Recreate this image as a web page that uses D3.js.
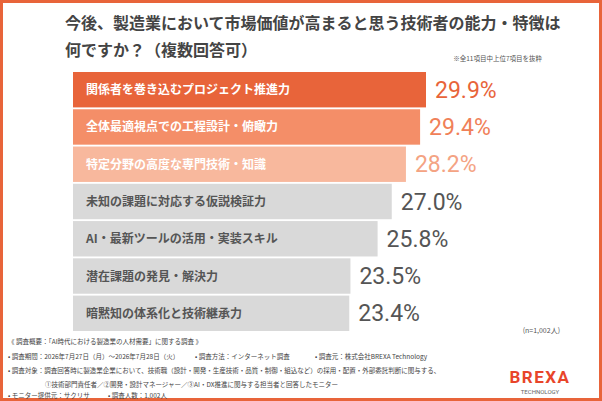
<!DOCTYPE html>
<html><head><meta charset="utf-8">
<script src="https://cdn.jsdelivr.net/npm/d3@7"></script>
<style>body{margin:0;background:#fff}svg{display:block;font-family:"Noto Sans CJK JP",sans-serif}</style>
</head><body><div id="chart"></div>
<script>
const categories = ["関係者を巻き込むプロジェクト推進力","全体最適視点での工程設計・俯瞰力","特定分野の高度な専門技術・知識","未知の課題に対応する仮説検証力","AI・最新ツールの活用・実装スキル","潜在課題の発見・解決力","暗黙知の体系化と技術継承力"];
const values = [29.9,29.4,28.2,27.0,25.8,23.5,23.4];
const barColors = ["#e8643a","#f48e68","#f8b89d","#d9d9d9","#d9d9d9","#d9d9d9","#d9d9d9"];
const valueColors = ["#e8643a","#f08058","#f4a383","#555","#555","#555","#555"];

const W = 602, H = 401;
const svg = d3.select("#chart").append("svg").attr("width", W).attr("height", H);
svg.append("rect").attr("x",1.5).attr("y",1.5).attr("width",W-3).attr("height",H-3)
  .attr("fill","none").attr("stroke","#e8643a").attr("stroke-width",3);

svg.append("text").attr("x",65).attr("y",29).attr("font-size",16).attr("font-weight",700).attr("fill","#444")
  .text("今後、製造業において市場価値が高まると思う技術者の能力・特徴は");
svg.append("text").attr("x",65).attr("y",56).attr("font-size",16).attr("font-weight",700).attr("fill","#444")
  .text("何ですか？（複数回答可）");
svg.append("text").attr("x",542).attr("y",61).attr("font-size",6.5).attr("text-anchor","end").attr("fill","#555")
  .text("※全11項目中上位7項目を抜粋");

const x = d3.scaleLinear().domain([0,29.9]).range([73,426]);
const y = d3.scaleBand().domain(categories).range([72,331]).paddingInner(0.05);

const g = svg.selectAll(".row").data(categories).enter().append("g");
g.append("rect").attr("x",x(0)).attr("y",d=>y(d)).attr("height",y.bandwidth())
  .attr("width",(d,i)=>x(values[i])-x(0)).attr("fill",(d,i)=>barColors[i]);
g.append("text").attr("x",86).attr("y",d=>y(d)+y.bandwidth()/2+4.5).attr("font-size",12).attr("font-weight",700)
  .attr("fill",(d,i)=>i<3?"#fff":"#555").text(d=>d);
g.append("text").attr("x",(d,i)=>x(values[i])+9).attr("y",d=>y(d)+y.bandwidth()/2+8)
  .attr("font-family","Roboto").attr("font-size",23).attr("font-weight",400)
  .attr("fill",(d,i)=>valueColors[i]).text((d,i)=>values[i].toFixed(1)+"%");

svg.append("text").attr("x",560).attr("y",333).attr("font-size",7).attr("text-anchor","end").attr("fill","#555").text("(n=1,002人)");

const notes = [
  [8,344,"《 調査概要：「AI時代における製造業の人材需要」に関する調査 》"],
  [8,359,"• 調査期間：2026年7月27日（月）〜2026年7月28日（火）"],
  [195,359,"• 調査方法：インターネット調査"],
  [315,359,"• 調査元：株式会社BREXA Technology"],
  [8,373,"• 調査対象：調査回答時に製造業企業において、技術職（設計・開発・生産技術・品質・制御・組込など）の採用・配置・外部委託判断に関与する、"],
  [45,387,"①技術部門責任者／②開発・設計マネージャー／③AI・DX推進に関与する担当者と回答したモニター"],
  [8,398,"• モニター提供元：サクリサ"],
  [108,398,"• 調査人数：1,002人"]
];
svg.selectAll(".note").data(notes).enter().append("text").attr("x",d=>d[0]).attr("y",d=>d[1])
  .attr("font-size",6.5).attr("fill","#444").text(d=>d[2]);

svg.append("text").attr("x",540).attr("y",383).attr("text-anchor","middle").attr("font-family","Roboto")
  .attr("font-size",17).attr("font-weight",700).attr("fill","#e8452a").attr("letter-spacing",1.5).text("BREXA");
svg.append("text").attr("x",540).attr("y",394).attr("text-anchor","middle").attr("font-family","Roboto")
  .attr("font-size",6).attr("fill","#666").text("TECHNOLOGY");
</script></body></html>
